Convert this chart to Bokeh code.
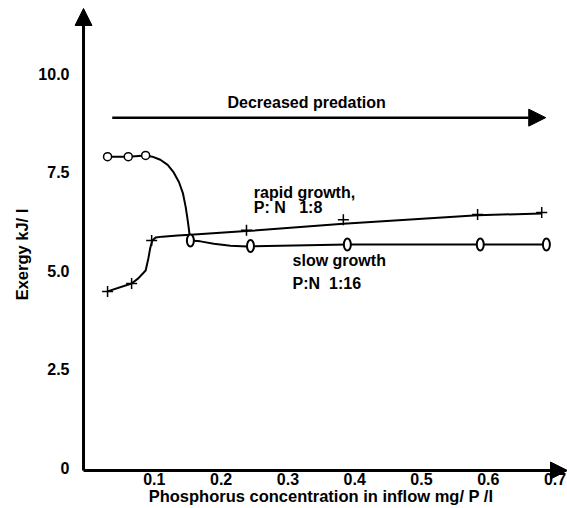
from bokeh.plotting import figure
from bokeh.models import Range1d, FixedTicker, Arrow, NormalHead, ColumnDataSource
from bokeh.core.properties import value
from bokeh.embed import file_html
from bokeh.resources import INLINE

# ---------------- data ----------------
# slow growth (P:N 1:16): open circles, then "0" ovals
slow_open_x = [0.030, 0.061, 0.087]
slow_open_y = [7.89, 7.89, 7.92]
slow_oval_x = [0.154, 0.244, 0.389, 0.588, 0.687]
slow_oval_y = [5.76, 5.62, 5.66, 5.66, 5.66]
# traced curve of the slow-growth line
slow_curve_x = [0.030, 0.061, 0.087, 0.097, 0.109, 0.120, 0.129, 0.137, 0.143,
                0.147, 0.150, 0.152, 0.153, 0.154, 0.169, 0.189, 0.214, 0.239,
                0.389, 0.588, 0.687]
slow_curve_y = [7.89, 7.89, 7.92, 7.89, 7.81, 7.68, 7.49, 7.24, 6.95,
                6.61, 6.27, 6.02, 5.85, 5.76, 5.74, 5.68, 5.63, 5.61,
                5.66, 5.66, 5.66]

# rapid growth (P:N 1:8): crosses
rapid_x = [0.030, 0.066, 0.096, 0.238, 0.383, 0.584, 0.680]
rapid_y = [4.47, 4.67, 5.76, 6.02, 6.29, 6.42, 6.47]
# traced curve of the rapid-growth line
rapid_curve_x = [0.030, 0.066, 0.076, 0.087, 0.091, 0.094, 0.097, 0.102, 0.112,
                 0.135, 0.154, 0.238, 0.383, 0.584, 0.680]
rapid_curve_y = [4.47, 4.67, 4.80, 5.00, 5.30, 5.58, 5.76, 5.84, 5.86,
                 5.89, 5.91, 6.00, 6.19, 6.40, 6.45]

x_ticks = [0.1, 0.2, 0.3, 0.4, 0.5, 0.6, 0.7]
x_tick_labels = ["0.1", "0.2", "0.3", "0.4", "0.5", "0.6", "0.7"]
y_ticks = [0, 2.5, 5, 7.5, 10]
y_tick_labels = ["0", "2.5", "5.0", "7.5", "10.0"]

x_title = "Phosphorus concentration in inflow mg/ P /l"
y_title = "Exergy kJ/ l"

FONT = "Liberation Sans"

# axis-line positions (data units) and plotting window
X_AX, Y_AX = -0.006, -0.076
X_LO, X_HI = -0.0195, 0.7186
Y_LO, Y_HI = -1.04, 11.853
Y_TIP = 11.65

p = figure(width=567, height=508, output_backend="svg", toolbar_location=None,
           x_range=Range1d(X_LO, X_HI), y_range=Range1d(Y_LO, Y_HI),
           min_border_left=74, min_border_right=0, min_border_top=0,
           min_border_bottom=0)
p.outline_line_color = None
p.grid.visible = False
p.background_fill_color = "white"
p.border_fill_color = "white"

for ax in (p.xaxis, p.yaxis):
    ax.axis_line_color = None
    ax.major_tick_line_color = None
    ax.minor_tick_line_color = None
    ax.major_tick_in = 0
    ax.major_tick_out = 0
    ax.minor_tick_in = 0
    ax.minor_tick_out = 0
    ax.major_label_text_font = FONT
    ax.major_label_text_font_style = "bold"
    ax.major_label_text_font_size = "16px"
    ax.major_label_text_color = "black"
    ax.axis_label_text_font = FONT
    ax.axis_label_text_font_style = "bold"
    ax.axis_label_text_font_size = "16.5px"
    ax.axis_label_text_color = "black"

p.xaxis.fixed_location = Y_AX
p.xaxis.ticker = FixedTicker(ticks=x_ticks)
p.xaxis.major_label_overrides = dict(zip(x_ticks, x_tick_labels))
p.xaxis.major_label_standoff = 2
p.xaxis.axis_label = x_title
p.xaxis.axis_label_standoff = -1

p.yaxis.ticker = FixedTicker(ticks=y_ticks)
p.yaxis.major_label_overrides = dict(zip(y_ticks, y_tick_labels))
p.yaxis.major_label_standoff = 5
p.yaxis.axis_label = y_title
p.yaxis.axis_label_standoff = 4

# axes drawn as arrows
p.add_layout(Arrow(end=NormalHead(size=17, fill_color="black", line_color="black"),
                   x_start=X_AX, y_start=Y_AX, x_end=X_AX, y_end=Y_TIP,
                   line_width=3, line_color="black"))
p.add_layout(Arrow(end=NormalHead(size=17, fill_color="black", line_color="black"),
                   x_start=X_AX, y_start=Y_AX, x_end=X_HI, y_end=Y_AX,
                   line_width=3, line_color="black"))
# "Decreased predation" arrow
p.add_layout(Arrow(end=NormalHead(size=17, fill_color="black", line_color="black"),
                   x_start=0.037, y_start=8.88, x_end=0.686, y_end=8.88,
                   line_width=2.5, line_color="black"))

# curves
p.line(slow_curve_x, slow_curve_y, line_width=2, line_color="black")
p.line(rapid_curve_x, rapid_curve_y, line_width=2, line_color="black")

# markers
p.scatter(slow_open_x, slow_open_y, marker="circle", size=8,
          fill_color="white", line_color="black", line_width=1.5)
p.ellipse(x=slow_oval_x, y=slow_oval_y, width=7, height=12,
          width_units="screen", height_units="screen",
          fill_color="white", line_color="black", line_width=2)
p.scatter(rapid_x, rapid_y, marker="cross", size=11,
          line_color="black", line_width=1.5)

# annotation texts
ann = ColumnDataSource(dict(
    x=[0.2096, 0.249, 0.249, 0.307, 0.307],
    y=[9.26, 6.98, 6.60, 5.25, 4.67],
    t=["Decreased predation", "rapid growth,", "P: N \u00a0\u00a01:8",
       "slow growth", "P:N \u00a01:16"],
))
p.text(x="x", y="y", text="t", source=ann, text_font=value(FONT),
       text_font_style="bold", text_font_size="16px", text_color="black",
       text_align="left", text_baseline="middle")

open("out.html", "w").write(file_html(p, INLINE))
